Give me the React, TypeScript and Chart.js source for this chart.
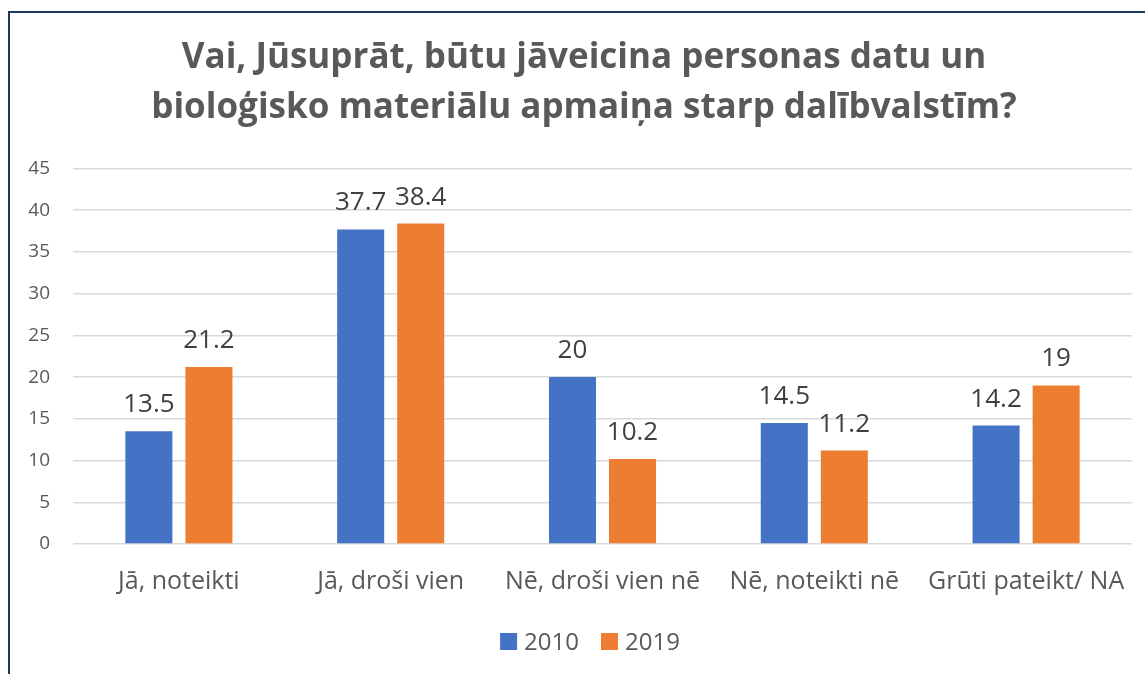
import React, { useEffect, useRef } from "react";
import { Chart, registerables } from "chart.js";

Chart.register(...registerables);

const categories = [
  "Jā, noteikti",
  "Jā, droši vien",
  "Nē, droši vien nē",
  "Nē, noteikti nē",
  "Grūti pateikt/ NA",
];
const seriesNames = ["2010", "2019"];
const values2010 = [13.5, 37.7, 20, 14.5, 14.2];
const values2019 = [21.2, 38.4, 10.2, 11.2, 19];
const seriesColors = ["#4472C4", "#ED7D31"];
const titleLines = [
  "Vai, Jūsuprāt, būtu jāveicina personas datu un",
  "bioloģisko materiālu apmaiņa starp dalībvalstīm?",
];
const yMax = 45;
const yStep = 5;

const FONT = "'Open Sans', Lato, sans-serif";

const decorations = {
  id: "decorations",
  beforeDraw(chart: any) {
    const ctx = chart.ctx;
    ctx.save();
    ctx.fillStyle = "#ffffff";
    ctx.fillRect(0, 0, chart.width, chart.height);
    ctx.fillStyle = "#1F3864";
    ctx.fillRect(8, 11, 2, chart.height - 11);
    ctx.fillRect(8, 11, chart.width - 8, 2);

    // title
    ctx.fillStyle = "#595959";
    ctx.font = `bold 35px ${FONT}`;
    ctx.textAlign = "center";
    ctx.textBaseline = "alphabetic";
    titleLines.forEach((line, i) => {
      ctx.fillText(line, 584, 68 + i * 50);
    });

    // legend
    ctx.font = `24px ${FONT}`;
    const box = 17;
    const gapText = 7;
    const gapItem = 22;
    const widths = seriesNames.map((n) => ctx.measureText(n).width);
    const total =
      widths.reduce((a, w) => a + box + gapText + w, 0) + gapItem * (seriesNames.length - 1);
    let x = 590 - total / 2;
    ctx.textAlign = "left";
    seriesNames.forEach((n, i) => {
      ctx.fillStyle = seriesColors[i];
      ctx.fillRect(x, 633, box, box);
      x += box + gapText;
      ctx.fillStyle = "#595959";
      ctx.fillText(n, x, 650);
      x += widths[i] + gapItem;
    });
    ctx.restore();
  },
  afterDatasetsDraw(chart: any) {
    const ctx = chart.ctx;
    ctx.save();
    ctx.font = `26px ${FONT}`;
    ctx.fillStyle = "#404040";
    ctx.textAlign = "center";
    ctx.textBaseline = "alphabetic";
    chart.data.datasets.forEach((ds: any, i: number) => {
      const meta = chart.getDatasetMeta(i);
      meta.data.forEach((bar: any, j: number) => {
        ctx.fillText(String(ds.data[j]), bar.x, bar.y - 19);
      });
    });
    ctx.restore();
  },
};

export default function App() {
  const ref = useRef<HTMLCanvasElement | null>(null);
  useEffect(() => {
    if (!ref.current) return;
    const chart = new Chart(ref.current, {
      type: "bar",
      data: {
        labels: categories,
        datasets: [
          {
            label: seriesNames[0],
            data: values2010,
            backgroundColor: seriesColors[0],
            categoryPercentage: 0.567,
            barPercentage: 0.783,
          },
          {
            label: seriesNames[1],
            data: values2019,
            backgroundColor: seriesColors[1],
            categoryPercentage: 0.567,
            barPercentage: 0.783,
          },
        ],
      },
      options: {
        responsive: false,
        animation: false,
        devicePixelRatio: 1,
        layout: { padding: { left: 0, right: 13, top: 168.5, bottom: 62 } },
        plugins: {
          tooltip: { enabled: false },
          title: { display: false },
          legend: { display: false },
        },
        scales: {
          x: {
            grid: { display: false },
            border: { display: false },
            ticks: {
              color: "#595959",
              font: { family: FONT, size: 25 },
              padding: 15,
              maxRotation: 0,
            },
          },
          y: {
            min: 0,
            max: yMax,
            grid: { color: "#D9D9D9", lineWidth: 1.5, drawTicks: false },
            border: { display: false },
            afterFit(scale: any) {
              scale.width = 73;
            },
            ticks: {
              stepSize: yStep,
              color: "#595959",
              font: { family: FONT, size: 19 },
              padding: 23,
            },
          },
        },
      },
      plugins: [decorations],
    });
    return () => chart.destroy();
  }, []);
  return (
    <div style={{ position: "absolute", left: 0, top: 0, width: 1145, height: 674 }}>
      <canvas ref={ref} width={1145} height={674} style={{ width: 1145, height: 674, display: "block" }} />
    </div>
  );
}
